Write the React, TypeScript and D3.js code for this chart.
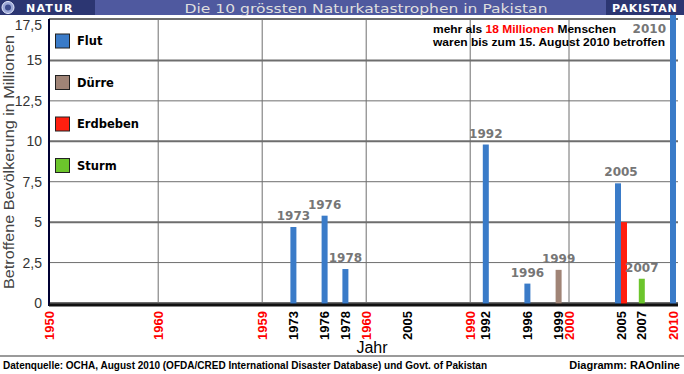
import React from 'react'
import * as d3 from 'd3'

// legend / series
const disasterTypes = ['Flut', 'Dürre', 'Erdbeben', 'Sturm']
const typeColors = ['#3a7bc8', '#a08476', '#ff1f0f', '#6cc52c']

// x axis: labels and their slot on the 120-step category axis (Excel-like blank categories)
const xLabels = ['1950', '1960', '1959', '1973', '1976', '1978', '1960', '2005', '1990', '1992', '1996', '1999', '2000', '2005', '2007', '2010']
const xSlots = [0, 21, 41, 47, 53, 57, 61, 69, 81, 84, 92, 98, 100, 110, 114, 120]
const xDecade = [1, 1, 1, 0, 0, 0, 1, 0, 1, 0, 0, 0, 1, 0, 0, 1]

// events
const eventYears = ['1973', '1976', '1978', '1992', '1996', '1999', '2005', '2005', '2007', '2010']
const eventTypes = ['Flut', 'Flut', 'Flut', 'Flut', 'Flut', 'Dürre', 'Flut', 'Erdbeben', 'Sturm', 'Flut']
const eventValues = [4.7, 5.4, 2.1, 9.8, 1.2, 2.05, 7.4, 5.0, 1.5, 18]

const yTicks = [0, 2.5, 5, 7.5, 10, 12.5, 15, 17.5]

const W = 684
const H = 374
const plot = { left: 49, right: 678, top: 19, bottom: 304 }

const arial = 'Liberation Sans, Arial, sans-serif'
const verdana = 'DejaVu Sans, Verdana, sans-serif'

const App = () => {
  const x = d3.scaleLinear().domain([0, 120]).range([49, 673])
  const y = d3.scaleLinear().domain([0, 17.5]).range([303, 20])
  const color = d3.scaleOrdinal<string, string>().domain(disasterTypes).range(typeColors)
  const legendY = d3.scalePoint<string>().domain(disasterTypes).range([41, 165.5])
  const bw = 6

  const slotOf = (yr: string) => xSlots[xLabels.lastIndexOf(yr)]
  const fmt = (v: number) => String(v).replace('.', ',')

  const bars = eventYears.map((yr, i) => {
    const group = eventYears.map((g, j) => (g === yr ? j : -1)).filter(j => j >= 0)
    const k = group.indexOf(i)
    const x0 = x(slotOf(yr)) - (group.length * bw) / 2 + k * bw
    return { yr, type: eventTypes[i], value: eventValues[i], x0 }
  })

  const years = Array.from(new Set(eventYears))
  const labels = years.map(yr => {
    const vals = eventValues.filter((_, i) => eventYears[i] === yr)
    return { yr, value: d3.max(vals) as number }
  })

  return (
    <svg width={W} height={H} style={{ position: 'absolute', left: 0, top: 0, background: '#fff' }}>
      {/* horizontal grid */}
      {yTicks.map(t => (
        <line key={'h' + t} x1={plot.left} x2={plot.right} y1={t === 17.5 ? plot.top : y(t)} y2={t === 17.5 ? plot.top : y(t)}
          stroke='#6e6e6e' strokeWidth={t % 5 === 0 || t === 17.5 ? 2 : 1} />
      ))}
      {/* vertical grid */}
      {xSlots.filter((_, i) => xDecade[i] && i > 0).map(s => (
        <line key={'v' + s} x1={x(s)} x2={x(s)} y1={plot.top} y2={plot.bottom} stroke='#6e6e6e' strokeWidth={1} />
      ))}

      {/* bars */}
      {bars.map((b, i) => (
        <rect key={'b' + i} x={b.x0} width={bw} y={y(b.value)} height={y(0) - y(b.value) + 1} fill={color(b.type)} />
      ))}

      {/* value labels */}
      {labels.map(l => {
        const over = l.value > 17.5
        const cx = x(slotOf(l.yr))
        return (
          <text key={'l' + l.yr} x={over ? cx - bw / 2 - 4 : cx} y={over ? 33 : y(l.value) - 7}
            textAnchor={over ? 'end' : 'middle'} fontFamily={verdana} fontWeight='bold' fontSize={12} fill='#767676'>
            {l.yr}
          </text>
        )
      })}

      {/* axes */}
      <line x1={plot.left} x2={plot.left} y1={plot.top} y2={plot.bottom + 2} stroke='#000033' strokeWidth={2} />
      <line x1={plot.left} x2={plot.right} y1={y(0) + 2} y2={y(0) + 2} stroke='#111' strokeWidth={3} />

      {yTicks.map(t => (
        <text key={'yt' + t} x={42} y={Math.max(y(t), 25)} dy='0.36em' textAnchor='end'
          fontFamily={arial} fontSize={14} fill='#333'>{fmt(t)}</text>
      ))}

      {xLabels.map((lab, i) => (
        <text key={'xt' + i} transform={`translate(${x(xSlots[i])},311) rotate(-90)`} dy='0.36em' textAnchor='end'
          fontFamily={arial} fontWeight='bold' fontSize={13} fill={xDecade[i] ? '#ff0000' : '#000'}>{lab}</text>
      ))}

      <text x={372} y={353} textAnchor='middle' fontFamily={arial} fontSize={16} fill='#000'>Jahr</text>
      <text transform='translate(14,162) rotate(-90)' textAnchor='middle' fontFamily={arial} fontSize={14}
        fill='#444' textLength={254} lengthAdjust='spacingAndGlyphs'>Betroffene Bevölkerung in Millionen</text>

      {/* legend */}
      {disasterTypes.map(t => (
        <g key={'lg' + t} transform={`translate(55,${legendY(t)})`}>
          <rect x={0.5} y={-7} width={14} height={14} fill={color(t)} stroke='#222' strokeWidth={1} />
          <text x={22} y={0} dy='0.36em' fontFamily={verdana} fontWeight='bold' fontSize={11.5} fill='#000'>{t}</text>
        </g>
      ))}

      {/* annotation */}
      <text x={433} y={33} fontFamily={arial} fontWeight='bold' fontSize={11} fill='#000' textLength={183} lengthAdjust='spacingAndGlyphs'>
        mehr als <tspan fill='#ff0000'>18 Millionen</tspan> Menschen
      </text>
      <text x={433} y={46} fontFamily={arial} fontWeight='bold' fontSize={11} fill='#000' textLength={232} lengthAdjust='spacingAndGlyphs'>
        waren bis zum 15. August 2010 betroffen
      </text>

      {/* header */}
      <rect x={0} y={0} width={W} height={15} fill='#4f599f' />
      <rect x={0} y={0} width={95} height={15} fill='#2c3672' />
      <rect x={606} y={0} width={78} height={15} fill='#2c3672' />
      <circle cx={8} cy={7.5} r={6} fill='#9aa6d6' stroke='#e8ecff' strokeWidth={1} />
      <circle cx={8} cy={7.5} r={3} fill='#3c4a8c' />
      <text x={26} y={12} fontFamily={verdana} fontWeight='bold' fontSize={11} letterSpacing={1.2} fill='#fff'>NATUR</text>
      <text x={366} y={12.5} textAnchor='middle' fontFamily={verdana} fontSize={13} fill='#dedede'
        textLength={363} lengthAdjust='spacingAndGlyphs'>Die 10 grössten Naturkatastrophen in Pakistan</text>
      <text x={612} y={12} fontFamily={verdana} fontWeight='bold' fontSize={11} letterSpacing={0.6} fill='#fff'>PAKISTAN</text>

      {/* footer */}
      <line x1={0} x2={W} y1={356} y2={356} stroke='#9a9a9a' strokeWidth={2} />
      <text x={3} y={369} fontFamily={arial} fontWeight='bold' fontSize={11} fill='#000' textLength={484} lengthAdjust='spacingAndGlyphs'>
        Datenquelle:  OCHA, August 2010 (OFDA/CRED International Disaster Database) und Govt. of Pakistan
      </text>
      <text x={680} y={369} textAnchor='end' fontFamily={arial} fontWeight='bold' fontSize={11} fill='#000'>Diagramm: RAOnline</text>
    </svg>
  )
}

export default App
